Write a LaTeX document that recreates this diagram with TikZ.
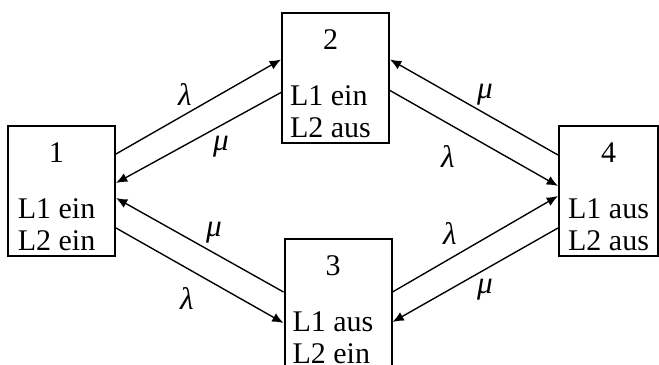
\documentclass[tikz,border=0pt]{standalone}
\usepackage{fontspec}
\setmainfont{Liberation Serif}
\usetikzlibrary{arrows.meta,calc}

% state text: number centred over the two lamp lines
\newcommand{\zustand}[4][4pt]{\begin{tabular}[t]{@{}l@{}}\multicolumn{1}{c}{#2}\\[9.6pt]#3\\#4\end{tabular}\kern#1}

\begin{document}
\begin{tikzpicture}[
  x=0.4pt, y=-0.4pt,
  font=\fontsize{12}{12.8}\selectfont,
  box/.style={draw, line width=0.8pt, minimum width=42.8pt, minimum height=52pt,
              inner sep=0pt, text height=14.6pt, text depth=37.4pt},
  tr/.style={-{Latex[length=4.5pt,width=3.8pt]}, line width=0.55pt},
  rate/.style={font=\fontsize{12.5}{13}\selectfont\itshape},
]
\useasboundingbox (0,0) rectangle (659,365);

% ---------------- states ----------------
\node[box] (s1) at (61.5,191)  {\zustand{1}{L1 ein}{L2 ein}};
\node[box] (s2) at (335.5,78.5) {\zustand{2}{L1 ein}{L2 aus}};
\node[box] (s3) at (338,304)   {\zustand{3}{L1 aus}{L2 ein}};
\node[box, minimum width=39.6pt] (s4) at (608.5,191) {\zustand[0pt]{4}{L1 aus}{L2 aus}};

% ---------------- transitions ----------------
\draw[tr] ($(s1.east)+(0,-37)$) -- ($(s2.west)+(0,-19)$);
\draw[tr] ($(s2.west)+(0,14)$)  -- ($(s1.east)+(0,-8)$);
\draw[tr] ($(s3.west)+(0,-12)$) -- ($(s1.east)+(0,7)$);
\draw[tr] ($(s1.east)+(0,37)$)  -- ($(s3.west)+(0,19)$);
\draw[tr] ($(s2.east)+(0,12)$)  -- ($(s4.west)+(0,-5)$);
\draw[tr] ($(s4.west)+(0,-36)$) -- ($(s2.east)+(0,-19)$);
\draw[tr] ($(s3.east)+(0,-12)$) -- ($(s4.west)+(0,5)$);
\draw[tr] ($(s4.west)+(0,37)$)  -- ($(s3.east)+(0,18)$);

% rates
\node[rate] (l12) at (185,95)  {λ};
\node[rate] (l21) at (221,147) {μ};
\node[rate] (l31) at (214,233) {μ};
\node[rate] (l13) at (187,298) {λ};
\node[rate] (l42) at (485,95)  {μ};
\node[rate] (l24) at (448,157) {λ};
\node[rate] (l34) at (450,233) {λ};
\node[rate] (l43) at (485,290) {μ};

\end{tikzpicture}
\end{document}
